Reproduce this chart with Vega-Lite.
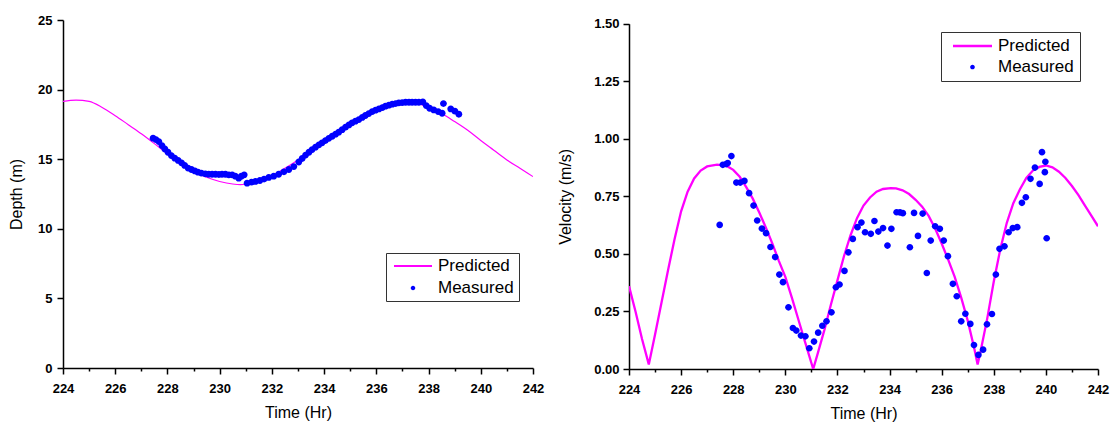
{
  "$schema": "https://vega.github.io/schema/vega-lite/v6.json",
  "background": "white",
  "padding": {"left": 8, "top": 14, "right": 5, "bottom": 5},
  "bounds": "flush",
  "spacing": 96,
  "resolve": {"scale": {"color": "independent", "shape": "independent"}, "legend": {"color": "independent", "shape": "independent"}},
  "config": {
    "view": {"stroke": null},
    "font": "Liberation Sans",
    "axis": {
      "labelFont": "Liberation Sans", "labelFontSize": 13, "labelFontWeight": "bold", "labelColor": "black",
      "titleFont": "Liberation Sans", "titleFontSize": 16, "titleFontWeight": "normal", "titleColor": "black",
      "domainColor": "black", "domainWidth": 1.5, "tickColor": "black", "tickWidth": 1.5,
      "grid": false, "labelFlush": false, "labelOverlap": false
    },
    "legend": {
      "labelFont": "Liberation Sans", "labelFontSize": 17, "labelColor": "black",
      "strokeColor": "#333333", "strokeWidth": 1, "fillColor": "white",
      "symbolStrokeWidth": 0, "symbolOpacity": 1, "clipHeight": 16
    }
  },
  "datasets": {
    "depthPred": [
      {"t": 224.0, "v": 19.15}, {"t": 224.5, "v": 19.25}, {"t": 225.0, "v": 19.15}, {"t": 225.5, "v": 18.72},
      {"t": 226.0, "v": 18.13}, {"t": 226.5, "v": 17.48}, {"t": 227.0, "v": 16.83}, {"t": 227.5, "v": 16.12},
      {"t": 228.0, "v": 15.38}, {"t": 228.5, "v": 14.68}, {"t": 229.0, "v": 14.12}, {"t": 229.5, "v": 13.70},
      {"t": 230.0, "v": 13.40}, {"t": 230.5, "v": 13.22}, {"t": 230.8, "v": 13.18}, {"t": 231.0, "v": 13.20},
      {"t": 231.5, "v": 13.40}, {"t": 232.0, "v": 13.80}, {"t": 232.5, "v": 14.35}, {"t": 233.0, "v": 14.95},
      {"t": 233.5, "v": 15.60}, {"t": 234.0, "v": 16.30}, {"t": 234.5, "v": 16.95}, {"t": 235.0, "v": 17.55},
      {"t": 235.5, "v": 18.10}, {"t": 236.0, "v": 18.55}, {"t": 236.5, "v": 18.88}, {"t": 237.0, "v": 19.05},
      {"t": 237.3, "v": 19.08}, {"t": 237.5, "v": 19.05}, {"t": 238.0, "v": 18.72}, {"t": 238.5, "v": 18.28},
      {"t": 239.0, "v": 17.70}, {"t": 239.5, "v": 17.08}, {"t": 240.0, "v": 16.35}, {"t": 240.5, "v": 15.65},
      {"t": 241.0, "v": 14.95}, {"t": 241.5, "v": 14.35}, {"t": 242.0, "v": 13.75}
    ],
    "depthMeas": [
      {"t": 227.45, "v": 16.51, "series": "Measured"}, {"t": 227.56, "v": 16.41, "series": "Measured"},
      {"t": 227.67, "v": 16.27, "series": "Measured"}, {"t": 227.79, "v": 15.98, "series": "Measured"},
      {"t": 227.90, "v": 15.74, "series": "Measured"}, {"t": 228.02, "v": 15.50, "series": "Measured"},
      {"t": 228.15, "v": 15.26, "series": "Measured"}, {"t": 228.28, "v": 15.07, "series": "Measured"},
      {"t": 228.41, "v": 14.91, "series": "Measured"}, {"t": 228.54, "v": 14.74, "series": "Measured"},
      {"t": 228.66, "v": 14.55, "series": "Measured"}, {"t": 228.79, "v": 14.36, "series": "Measured"},
      {"t": 228.92, "v": 14.26, "series": "Measured"}, {"t": 229.05, "v": 14.16, "series": "Measured"},
      {"t": 229.17, "v": 14.07, "series": "Measured"}, {"t": 229.30, "v": 14.00, "series": "Measured"},
      {"t": 229.45, "v": 13.95, "series": "Measured"}, {"t": 229.58, "v": 13.92, "series": "Measured"},
      {"t": 229.71, "v": 13.92, "series": "Measured"}, {"t": 229.84, "v": 13.92, "series": "Measured"},
      {"t": 229.97, "v": 13.90, "series": "Measured"}, {"t": 230.09, "v": 13.92, "series": "Measured"},
      {"t": 230.22, "v": 13.92, "series": "Measured"}, {"t": 230.35, "v": 13.88, "series": "Measured"},
      {"t": 230.48, "v": 13.88, "series": "Measured"}, {"t": 230.60, "v": 13.78, "series": "Measured"},
      {"t": 230.73, "v": 13.64, "series": "Measured"}, {"t": 230.83, "v": 13.78, "series": "Measured"},
      {"t": 230.94, "v": 13.88, "series": "Measured"}, {"t": 231.05, "v": 13.28, "series": "Measured"},
      {"t": 231.22, "v": 13.35, "series": "Measured"}, {"t": 231.37, "v": 13.40, "series": "Measured"},
      {"t": 231.54, "v": 13.47, "series": "Measured"}, {"t": 231.70, "v": 13.57, "series": "Measured"},
      {"t": 231.88, "v": 13.69, "series": "Measured"}, {"t": 232.07, "v": 13.78, "series": "Measured"},
      {"t": 232.26, "v": 13.92, "series": "Measured"}, {"t": 232.46, "v": 14.09, "series": "Measured"},
      {"t": 232.65, "v": 14.26, "series": "Measured"}, {"t": 232.84, "v": 14.47, "series": "Measured"},
      {"t": 233.03, "v": 14.80, "series": "Measured"}, {"t": 233.16, "v": 15.05, "series": "Measured"},
      {"t": 233.29, "v": 15.30, "series": "Measured"}, {"t": 233.42, "v": 15.50, "series": "Measured"},
      {"t": 233.54, "v": 15.69, "series": "Measured"}, {"t": 233.67, "v": 15.86, "series": "Measured"},
      {"t": 233.80, "v": 16.03, "series": "Measured"}, {"t": 233.92, "v": 16.18, "series": "Measured"},
      {"t": 234.05, "v": 16.34, "series": "Measured"}, {"t": 234.18, "v": 16.50, "series": "Measured"},
      {"t": 234.31, "v": 16.65, "series": "Measured"}, {"t": 234.44, "v": 16.80, "series": "Measured"},
      {"t": 234.56, "v": 16.94, "series": "Measured"}, {"t": 234.69, "v": 17.12, "series": "Measured"},
      {"t": 234.82, "v": 17.30, "series": "Measured"}, {"t": 234.95, "v": 17.46, "series": "Measured"},
      {"t": 235.07, "v": 17.61, "series": "Measured"}, {"t": 235.20, "v": 17.73, "series": "Measured"},
      {"t": 235.33, "v": 17.85, "series": "Measured"}, {"t": 235.46, "v": 18.00, "series": "Measured"},
      {"t": 235.58, "v": 18.14, "series": "Measured"}, {"t": 235.71, "v": 18.28, "series": "Measured"},
      {"t": 235.84, "v": 18.42, "series": "Measured"}, {"t": 235.97, "v": 18.52, "series": "Measured"},
      {"t": 236.10, "v": 18.61, "series": "Measured"}, {"t": 236.23, "v": 18.71, "series": "Measured"},
      {"t": 236.35, "v": 18.81, "series": "Measured"}, {"t": 236.48, "v": 18.88, "series": "Measured"},
      {"t": 236.61, "v": 18.95, "series": "Measured"}, {"t": 236.74, "v": 19.00, "series": "Measured"},
      {"t": 236.86, "v": 19.05, "series": "Measured"}, {"t": 236.99, "v": 19.07, "series": "Measured"},
      {"t": 237.12, "v": 19.09, "series": "Measured"}, {"t": 237.25, "v": 19.09, "series": "Measured"},
      {"t": 237.37, "v": 19.09, "series": "Measured"}, {"t": 237.50, "v": 19.09, "series": "Measured"},
      {"t": 237.63, "v": 19.09, "series": "Measured"}, {"t": 237.78, "v": 19.12, "series": "Measured"},
      {"t": 237.91, "v": 18.85, "series": "Measured"}, {"t": 238.04, "v": 18.66, "series": "Measured"},
      {"t": 238.20, "v": 18.54, "series": "Measured"}, {"t": 238.37, "v": 18.42, "series": "Measured"},
      {"t": 238.52, "v": 18.30, "series": "Measured"}, {"t": 238.57, "v": 19.00, "series": "Measured"},
      {"t": 238.85, "v": 18.61, "series": "Measured"}, {"t": 239.01, "v": 18.45, "series": "Measured"},
      {"t": 239.16, "v": 18.23, "series": "Measured"}
    ],
    "velPred": [
      {"t": 224.0, "v": 0.36}, {"t": 224.25, "v": 0.25}, {"t": 224.5, "v": 0.13}, {"t": 224.76, "v": 0.02},
      {"t": 225.0, "v": 0.15}, {"t": 225.25, "v": 0.29}, {"t": 225.5, "v": 0.43}, {"t": 225.75, "v": 0.565},
      {"t": 226.0, "v": 0.685}, {"t": 226.25, "v": 0.77}, {"t": 226.5, "v": 0.828}, {"t": 226.75, "v": 0.862},
      {"t": 227.0, "v": 0.88}, {"t": 227.38, "v": 0.888}, {"t": 227.75, "v": 0.882}, {"t": 228.0, "v": 0.865},
      {"t": 228.25, "v": 0.835}, {"t": 228.5, "v": 0.79}, {"t": 228.75, "v": 0.74}, {"t": 229.0, "v": 0.68},
      {"t": 229.25, "v": 0.615}, {"t": 229.5, "v": 0.545}, {"t": 229.75, "v": 0.47}, {"t": 230.0, "v": 0.40},
      {"t": 230.25, "v": 0.31}, {"t": 230.5, "v": 0.215}, {"t": 230.75, "v": 0.12}, {"t": 231.07, "v": 0.0},
      {"t": 231.25, "v": 0.07}, {"t": 231.5, "v": 0.17}, {"t": 231.75, "v": 0.28}, {"t": 232.0, "v": 0.385},
      {"t": 232.25, "v": 0.49}, {"t": 232.5, "v": 0.58}, {"t": 232.75, "v": 0.655}, {"t": 233.0, "v": 0.71},
      {"t": 233.25, "v": 0.745}, {"t": 233.5, "v": 0.77}, {"t": 233.75, "v": 0.782}, {"t": 234.05, "v": 0.786},
      {"t": 234.25, "v": 0.785}, {"t": 234.5, "v": 0.776}, {"t": 234.75, "v": 0.76}, {"t": 235.0, "v": 0.735},
      {"t": 235.25, "v": 0.705}, {"t": 235.5, "v": 0.665}, {"t": 235.75, "v": 0.61}, {"t": 236.0, "v": 0.545},
      {"t": 236.25, "v": 0.475}, {"t": 236.5, "v": 0.40}, {"t": 236.75, "v": 0.31}, {"t": 237.0, "v": 0.21},
      {"t": 237.25, "v": 0.09}, {"t": 237.38, "v": 0.02}, {"t": 237.5, "v": 0.08}, {"t": 237.75, "v": 0.22},
      {"t": 238.0, "v": 0.38}, {"t": 238.25, "v": 0.52}, {"t": 238.5, "v": 0.635}, {"t": 238.75, "v": 0.72},
      {"t": 239.0, "v": 0.78}, {"t": 239.25, "v": 0.83}, {"t": 239.5, "v": 0.862}, {"t": 239.75, "v": 0.878},
      {"t": 240.0, "v": 0.884}, {"t": 240.25, "v": 0.876}, {"t": 240.5, "v": 0.857}, {"t": 240.75, "v": 0.83},
      {"t": 241.0, "v": 0.795}, {"t": 241.25, "v": 0.755}, {"t": 241.5, "v": 0.71}, {"t": 241.75, "v": 0.665},
      {"t": 242.0, "v": 0.62}
    ],
    "velMeas": [
      {"t": 227.48, "v": 0.626, "series": "Measured"}, {"t": 227.60, "v": 0.887, "series": "Measured"},
      {"t": 227.73, "v": 0.890, "series": "Measured"}, {"t": 227.79, "v": 0.895, "series": "Measured"},
      {"t": 227.93, "v": 0.925, "series": "Measured"}, {"t": 228.12, "v": 0.810, "series": "Measured"},
      {"t": 228.27, "v": 0.810, "series": "Measured"}, {"t": 228.43, "v": 0.817, "series": "Measured"},
      {"t": 228.61, "v": 0.764, "series": "Measured"}, {"t": 228.78, "v": 0.710, "series": "Measured"},
      {"t": 228.92, "v": 0.645, "series": "Measured"}, {"t": 229.10, "v": 0.610, "series": "Measured"},
      {"t": 229.26, "v": 0.590, "series": "Measured"}, {"t": 229.43, "v": 0.530, "series": "Measured"},
      {"t": 229.61, "v": 0.486, "series": "Measured"}, {"t": 229.77, "v": 0.410, "series": "Measured"},
      {"t": 229.91, "v": 0.377, "series": "Measured"}, {"t": 230.12, "v": 0.268, "series": "Measured"},
      {"t": 230.29, "v": 0.178, "series": "Measured"}, {"t": 230.42, "v": 0.167, "series": "Measured"},
      {"t": 230.60, "v": 0.145, "series": "Measured"}, {"t": 230.77, "v": 0.142, "series": "Measured"},
      {"t": 230.92, "v": 0.090, "series": "Measured"}, {"t": 231.10, "v": 0.119, "series": "Measured"},
      {"t": 231.26, "v": 0.158, "series": "Measured"}, {"t": 231.42, "v": 0.188, "series": "Measured"},
      {"t": 231.58, "v": 0.207, "series": "Measured"}, {"t": 231.77, "v": 0.246, "series": "Measured"},
      {"t": 231.94, "v": 0.355, "series": "Measured"}, {"t": 232.08, "v": 0.367, "series": "Measured"},
      {"t": 232.27, "v": 0.426, "series": "Measured"}, {"t": 232.42, "v": 0.507, "series": "Measured"},
      {"t": 232.59, "v": 0.565, "series": "Measured"}, {"t": 232.77, "v": 0.616, "series": "Measured"},
      {"t": 232.92, "v": 0.636, "series": "Measured"}, {"t": 233.06, "v": 0.594, "series": "Measured"},
      {"t": 233.28, "v": 0.587, "series": "Measured"}, {"t": 233.42, "v": 0.643, "series": "Measured"},
      {"t": 233.57, "v": 0.597, "series": "Measured"}, {"t": 233.75, "v": 0.612, "series": "Measured"},
      {"t": 233.92, "v": 0.536, "series": "Measured"}, {"t": 234.07, "v": 0.609, "series": "Measured"},
      {"t": 234.27, "v": 0.681, "series": "Measured"}, {"t": 234.40, "v": 0.680, "series": "Measured"},
      {"t": 234.51, "v": 0.677, "series": "Measured"}, {"t": 234.78, "v": 0.529, "series": "Measured"},
      {"t": 234.94, "v": 0.678, "series": "Measured"}, {"t": 235.09, "v": 0.578, "series": "Measured"},
      {"t": 235.27, "v": 0.675, "series": "Measured"}, {"t": 235.43, "v": 0.417, "series": "Measured"},
      {"t": 235.58, "v": 0.558, "series": "Measured"}, {"t": 235.75, "v": 0.620, "series": "Measured"},
      {"t": 235.93, "v": 0.609, "series": "Measured"}, {"t": 236.08, "v": 0.558, "series": "Measured"},
      {"t": 236.24, "v": 0.490, "series": "Measured"}, {"t": 236.43, "v": 0.370, "series": "Measured"},
      {"t": 236.58, "v": 0.316, "series": "Measured"}, {"t": 236.75, "v": 0.207, "series": "Measured"},
      {"t": 236.91, "v": 0.240, "series": "Measured"}, {"t": 237.10, "v": 0.196, "series": "Measured"},
      {"t": 237.24, "v": 0.104, "series": "Measured"}, {"t": 237.41, "v": 0.061, "series": "Measured"},
      {"t": 237.59, "v": 0.084, "series": "Measured"}, {"t": 237.74, "v": 0.194, "series": "Measured"},
      {"t": 237.93, "v": 0.239, "series": "Measured"}, {"t": 238.08, "v": 0.410, "series": "Measured"},
      {"t": 238.22, "v": 0.522, "series": "Measured"}, {"t": 238.41, "v": 0.533, "series": "Measured"},
      {"t": 238.57, "v": 0.594, "series": "Measured"}, {"t": 238.73, "v": 0.612, "series": "Measured"},
      {"t": 238.90, "v": 0.616, "series": "Measured"}, {"t": 239.08, "v": 0.722, "series": "Measured"},
      {"t": 239.23, "v": 0.746, "series": "Measured"}, {"t": 239.41, "v": 0.826, "series": "Measured"},
      {"t": 239.58, "v": 0.875, "series": "Measured"}, {"t": 239.76, "v": 0.804, "series": "Measured"},
      {"t": 239.85, "v": 0.942, "series": "Measured"}, {"t": 239.96, "v": 0.855, "series": "Measured"},
      {"t": 239.98, "v": 0.900, "series": "Measured"}, {"t": 240.03, "v": 0.568, "series": "Measured"}
    ]
  },
  "hconcat": [
    {
      "width": 470,
      "height": 348,
      "encoding": {
        "x": {"field": "t", "type": "quantitative", "scale": {"domain": [224, 242], "nice": false, "zero": false},
          "axis": {"title": "Time (Hr)", "values": [224,225,226,227,228,229,230,231,232,233,234,235,236,237,238,239,240,241,242],
            "format": "d", "labelExpr": "datum.value % 2 === 0 ? datum.label : ''",
            "tickSize": {"condition": {"test": "datum.value % 2 === 0", "value": 6}, "value": 3},
            "labelPadding": 8, "titlePadding": 9}},
        "y": {"field": "v", "type": "quantitative", "scale": {"domain": [0, 25], "nice": false},
          "axis": {"title": "Depth (m)", "values": [0, 5, 10, 15, 20, 25], "format": "d", "tickSize": 6, "labelPadding": 5, "titlePadding": 13}}
      },
      "layer": [
        {"data": {"name": "depthPred"}, "mark": {"type": "line", "color": "#ff00ff", "strokeWidth": 1.2, "interpolate": "monotone", "clip": true}},
        {"data": {"name": "depthMeas"}, "mark": {"type": "point", "filled": true, "size": 3200, "opacity": 1},
          "encoding": {
            "color": {"field": "series", "type": "nominal",
              "scale": {"domain": ["Predicted", "Measured"], "range": ["#ff00ff", "#0000ff"]},
              "legend": {"orient": "none", "legendX": 323, "legendY": 233, "title": null, "padding": 5, "rowPadding": 5,
                "symbolOffset": 3, "symbolSize": 1444, "labelOffset": 6}},
            "shape": {"field": "series", "type": "nominal",
              "scale": {"domain": ["Predicted", "Measured"], "range": ["M-1,-0.055L1,-0.055L1,0.055L-1,0.055Z", "M0.12,0A0.12,0.12,0,1,1,-0.12,0A0.12,0.12,0,1,1,0.12,0Z"]},
              "legend": {"orient": "none", "legendX": 323, "legendY": 233, "title": null, "padding": 5, "rowPadding": 5,
                "symbolOffset": 3, "symbolSize": 1444, "labelOffset": 6}}
          }}
      ]
    },
    {
      "width": 469,
      "height": 349,
      "encoding": {
        "x": {"field": "t", "type": "quantitative", "scale": {"domain": [224, 242], "nice": false, "zero": false},
          "axis": {"title": "Time (Hr)", "values": [224,225,226,227,228,229,230,231,232,233,234,235,236,237,238,239,240,241,242],
            "format": "d", "labelExpr": "datum.value % 2 === 0 ? datum.label : ''",
            "tickSize": {"condition": {"test": "datum.value % 2 === 0", "value": 6}, "value": 3},
            "labelPadding": 8, "titlePadding": 9}},
        "y": {"field": "v", "type": "quantitative", "scale": {"domain": [0, 1.5], "nice": false, "range": [349, 3.7]},
          "axis": {"title": "Velocity (m/s)", "values": [0, 0.25, 0.5, 0.75, 1.0, 1.25, 1.5], "format": ".2f", "tickSize": 6, "labelPadding": 4, "titlePadding": 20}}
      },
      "layer": [
        {"data": {"name": "velPred"}, "mark": {"type": "line", "color": "#ff00ff", "strokeWidth": 2.3, "clip": true}},
        {"data": {"name": "velMeas"}, "mark": {"type": "point", "filled": true, "size": 3100, "opacity": 1},
          "encoding": {
            "color": {"field": "series", "type": "nominal",
              "scale": {"domain": ["Predicted", "Measured"], "range": ["#ff00ff", "#0000ff"]},
              "legend": {"orient": "none", "legendX": 312, "legendY": 12, "title": null, "padding": 6, "rowPadding": 4,
                "symbolOffset": 6, "symbolSize": 1521, "labelOffset": 6}},
            "shape": {"field": "series", "type": "nominal",
              "scale": {"domain": ["Predicted", "Measured"], "range": ["M-1,-0.065L1,-0.065L1,0.065L-1,0.065Z", "M0.12,0A0.12,0.12,0,1,1,-0.12,0A0.12,0.12,0,1,1,0.12,0Z"]},
              "legend": {"orient": "none", "legendX": 312, "legendY": 12, "title": null, "padding": 6, "rowPadding": 4,
                "symbolOffset": 6, "symbolSize": 1521, "labelOffset": 6}}
          }}
      ]
    }
  ]
}
